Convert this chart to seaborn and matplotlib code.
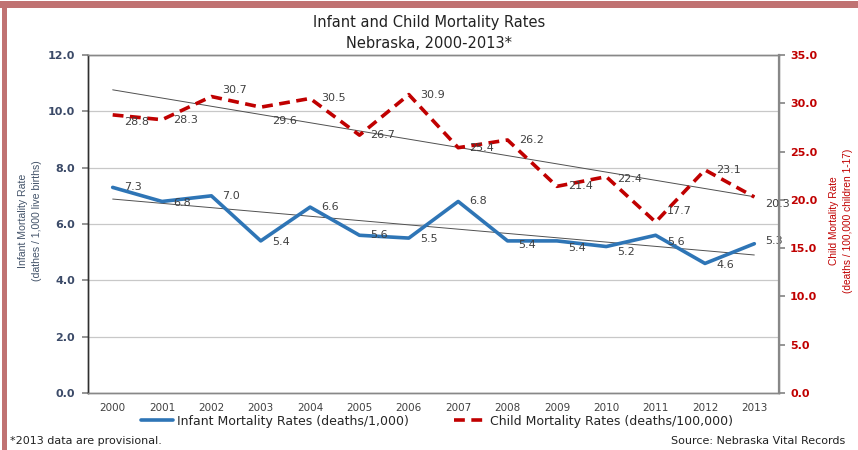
import numpy as np
import pandas as pd
import matplotlib
matplotlib.use("Agg")
import matplotlib.pyplot as plt
import seaborn as sns
from matplotlib.patches import Rectangle

years = [2000, 2001, 2002, 2003, 2004, 2005, 2006, 2007, 2008, 2009, 2010, 2011, 2012, 2013]
infant = [7.3, 6.8, 7.0, 5.4, 6.6, 5.6, 5.5, 6.8, 5.4, 5.4, 5.2, 5.6, 4.6, 5.3]
child = [28.8, 28.3, 30.7, 29.6, 30.5, 26.7, 30.9, 25.4, 26.2, 21.4, 22.4, 17.7, 23.1, 20.3]
infant_name = "Infant Mortality Rates (deaths/1,000)"
child_name = "Child Mortality Rates (deaths/100,000)"

# label vertical nudges (points)
infant_dy = [0, -1, 0, -1, 0, 0, -1, 0, -3, -5, -4, -5, -1, 2]
child_dy = [-5, 0, 5, -10, 0, 0, 0, 0, 0, 0, -2, 8, 0, -5]

sns.set_theme(style="white")
plt.rcParams["font.family"] = ["DejaVu Sans"]

BLUE = "#2E75B6"
RED = "#C00000"
NAVY = "#3B4A68"
TXT = "#404040"
narrow = ["Liberation Sans", "DejaVu Sans"]

fig = plt.figure(figsize=(8.58, 4.5), dpi=100)
fig.patch.set_facecolor("white")
ax = fig.add_axes([88 / 858, 57 / 450, 691 / 858, 338 / 450])
ax2 = ax.twinx()

x = np.arange(len(years))
df = pd.DataFrame({"x": x, "infant": infant, "child": child})

# trend lines
sns.regplot(data=df, x="x", y="infant", ax=ax, scatter=False, ci=None,
            line_kws=dict(color="#505050", lw=0.7))
sns.regplot(data=df, x="x", y="child", ax=ax2, scatter=False, ci=None,
            line_kws=dict(color="#505050", lw=0.7))

sns.lineplot(data=df, x="x", y="infant", ax=ax, color=BLUE, lw=2.6, label=infant_name)
sns.lineplot(data=df, x="x", y="child", ax=ax2, color=RED, lw=2.6,
             linestyle=(0, (3, 1.8)), label=child_name)

for xi, v, dy in zip(x, infant, infant_dy):
    ax.annotate(f"{v:.1f}", (xi, v), xytext=(8, dy), textcoords="offset points",
                ha="left", va="center", fontsize=8, color=TXT)
for xi, v, dy in zip(x, child, child_dy):
    ax2.annotate(f"{v:.1f}", (xi, v), xytext=(8, dy), textcoords="offset points",
                 ha="left", va="center", fontsize=8, color=TXT)

ax.set_xlim(-0.5, len(years) - 0.5)
ax.set_ylim(0, 12)
ax2.set_ylim(0, 35)

ax.set_yticks(np.arange(0, 12.1, 2))
ax.set_yticklabels([f"{t:.1f}" for t in np.arange(0, 12.1, 2)], fontsize=8,
                   fontweight="bold", color=NAVY)
ax2.set_yticks(np.arange(0, 35.1, 5))
ax2.set_yticklabels([f"{t:.1f}" for t in np.arange(0, 35.1, 5)], fontsize=8,
                    fontweight="bold", color=RED)
ax.set_xticks(x)
ax.set_xticklabels([str(y) for y in years], fontsize=7.5, color=TXT)
ax.set_xticks(np.arange(-0.5, len(years), 1), minor=True)
ax.tick_params(axis="x", which="major", length=0, pad=7)
ax.tick_params(axis="x", which="minor", length=4, color="#888888", direction="out")
ax.tick_params(axis="y", length=4, color="#888888", direction="out", pad=5.5, left=True)
ax2.tick_params(axis="y", length=4, color="#888888", direction="out", pad=4, right=True)

ax.yaxis.grid(True, color="#C8C8C8", lw=0.9)
ax.xaxis.grid(False)
ax2.grid(False)
ax.set_axisbelow(True)

for a in (ax, ax2):
    for s in a.spines.values():
        s.set_visible(True)
        s.set_color("#888888")
        s.set_linewidth(1.0)
    a.spines["left"].set_color("#303030")
ax2.spines["right"].set_linewidth(1.6)

ax.set_xlabel("")
ax.set_ylabel("Infant Mortality Rate\n(dathes / 1,000 live births)", fontsize=7.6,
              color="#44546A", family=narrow, linespacing=1.5)
ax.yaxis.label.set_va("center")
ax.yaxis.label.set_ha("center")
ax.yaxis.set_label_coords(-58 / 691, 0.51)
ax2.set_ylabel("Child Mortality Rate\n(deaths / 100,000 children 1-17)", fontsize=7.3,
               color=RED, family=narrow, rotation=90, linespacing=1.6)
ax2.yaxis.label.set_va("center")
ax2.yaxis.label.set_ha("center")
ax2.yaxis.set_label_coords(1 + 62 / 691, 0.51)

h1, l1 = ax.get_legend_handles_labels()
h2, l2 = ax2.get_legend_handles_labels()
ax.get_legend().remove()
ax2.get_legend().remove()
fig.legend(h1 + h2, l1 + l2, loc="center", bbox_to_anchor=(437 / 858, 1 - 421 / 450), ncol=2,
           frameon=False, fontsize=9, handlelength=2.6, columnspacing=3.6, handletextpad=0.3)

fig.text(0.5, 1 - 22 / 450, "Infant and Child Mortality Rates", ha="center", va="center",
         fontsize=10.5, color="#222222")
fig.text(0.5, 1 - 43 / 450, "Nebraska, 2000-2013*", ha="center", va="center",
         fontsize=10.5, color="#222222")
fig.text(10 / 858, 1 - 441 / 450, "*2013 data are provisional.", ha="left", va="center",
         fontsize=8, color="#222222")
fig.text(845 / 858, 1 - 441 / 450, "Source: Nebraska Vital Records", ha="right", va="center",
         fontsize=8, color="#222222")

border = "#C07272"
fig.patches.append(Rectangle((0, 1 - 8 / 450), 1, 7 / 450, transform=fig.transFigure,
                             facecolor=border, edgecolor="none", zorder=10))
fig.patches.append(Rectangle((2 / 858, 0), 5 / 858, 1 - 1 / 450, transform=fig.transFigure,
                             facecolor=border, edgecolor="none", zorder=10))

fig.savefig("out.png", dpi=100, facecolor="white")
